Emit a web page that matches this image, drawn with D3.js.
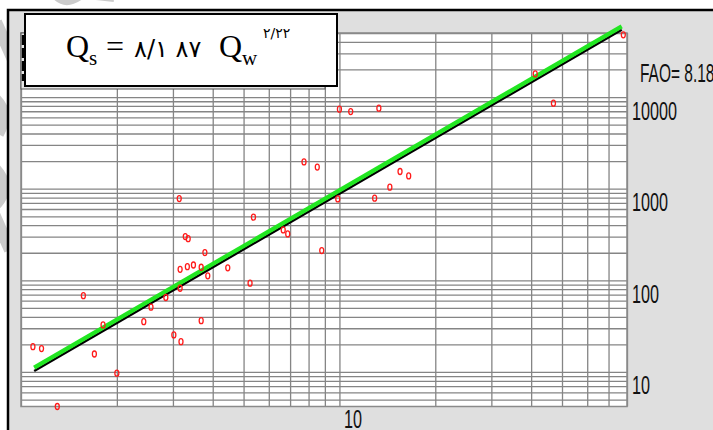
<!DOCTYPE html>
<html>
<head>
<meta charset="utf-8">
<script src="https://cdn.jsdelivr.net/npm/d3@7"></script>
<style>
  html, body { margin: 0; padding: 0; background: #fff; overflow: hidden; }
  svg { display: block; }
</style>
</head>
<body>
<div id="chart"></div>
<script>
// water discharge (Qw) and sediment discharge (Qs)
var qw = [10.0, 10.85, 7.74, 8.52, 3.14, 9.88, 5.37, 3.28, 3.35, 6.66, 6.88, 8.80, 3.78, 4.46,
          3.16, 3.33, 3.48, 3.68, 3.86, 5.24, 1.57, 3.16, 2.85, 2.56, 2.43, 3.68, 1.81, 3.02,
          3.18, 1.09, 1.16, 1.70, 2.00, 1.30, 13.3, 47.0, 15.5, 16.5, 14.4, 12.9, 77.9, 41.2];
var qs = [7380, 6950, 1960, 1720, 780, 774, 489, 300, 285, 355, 321, 211, 201, 137,
          132, 141, 147, 139, 112, 93, 68, 82, 65, 51, 35.4, 36.3, 32.6, 25.4,
          21.4, 18.9, 18.0, 15.7, 9.7, 4.2, 7570, 8580, 1540, 1380, 1040, 788, 47750, 17900];

// fitted rating curves  Qs = a * Qw^b
var fitRange = [1.1, 77.0];
var fitBlack = {a: 8.45, b: 2.018};
var fitGreen = {a: 9.2, b: 2.018};

var xDomain = [1, 80];
var yDomain = [4.2, 50000];
var yLabels = [10, 100, 1000, 10000];
var xLabels = [10];
var faoText = "FAO= 8.187";

(function () {
    var width = 713, height = 430;
    var pLeft = 21, pRight = 627, pTop = 33, pBottom = 406.5;

    var svg = d3.select("#chart").append("svg")
        .attr("width", width)
        .attr("height", height);

    // faint watermark fragments outside the frame
    var wm = svg.append("g").attr("fill", "none").attr("stroke", "#cbcbcb").attr("stroke-width", 12);
    wm.append("path").attr("d", "M-4,22 L14,62");
    wm.append("path").attr("d", "M-6,98 Q10,112 -2,134");
    wm.append("path").attr("d", "M-6,168 Q12,186 -4,204");
    wm.append("path").attr("d", "M-6,214 L10,250");
    wm.append("path").attr("d", "M56,-4 Q66,6 80,-4").attr("stroke-width", 8);
    wm.append("path").attr("d", "M96,-3 L114,-1").attr("stroke-width", 6);

    // window frame
    svg.append("rect")
        .attr("x", 8).attr("y", 10)
        .attr("width", 720).attr("height", 440)
        .attr("fill", "#dfdfdf")
        .attr("stroke", "#000")
        .attr("stroke-width", 2.5);

    var x = d3.scaleLog().domain(xDomain).range([pLeft, pRight]);
    var y = d3.scaleLog().domain(yDomain).range([pBottom, pTop]);

    svg.append("rect")
        .attr("x", pLeft).attr("y", pTop)
        .attr("width", pRight - pLeft).attr("height", pBottom - pTop)
        .attr("fill", "#fff");

    // grid
    var gx = svg.append("g")
        .attr("transform", "translate(0," + pBottom + ")")
        .call(d3.axisBottom(x).tickValues(x.ticks()).tickSize(-(pBottom - pTop)).tickFormat(""));
    var gy = svg.append("g")
        .attr("transform", "translate(" + pLeft + ",0)")
        .call(d3.axisLeft(y).tickValues(y.ticks()).tickSize(-(pRight - pLeft)).tickFormat(""));
    [gx, gy].forEach(function (g) {
        g.select(".domain").remove();
        g.selectAll("line").attr("stroke", "#858585").attr("stroke-width", 1.3);
    });

    svg.append("rect")
        .attr("x", pLeft).attr("y", pTop)
        .attr("width", pRight - pLeft).attr("height", pBottom - pTop)
        .attr("fill", "none")
        .attr("stroke", "#8a8a8a")
        .attr("stroke-width", 1.5);

    // axis labels
    var labelFont = "'Liberation Sans Narrow', 'Liberation Sans', Arial, sans-serif";
    var ay = svg.append("g")
        .attr("transform", "translate(" + pRight + ",0)")
        .call(d3.axisRight(y).tickValues(yLabels).tickSize(0).tickFormat(d3.format("d")));
    ay.select(".domain").remove();
    ay.selectAll("text")
        .attr("x", 5).attr("y", 22).attr("dy", null)
        .attr("text-anchor", "start")
        .attr("fill", "#111")
        .style("font-family", labelFont).style("font-size", "25px")
        .attr("textLength", function (d) { return String(d).length * 9; })
        .attr("lengthAdjust", "spacingAndGlyphs");

    var ax = svg.append("g")
        .attr("transform", "translate(0," + pBottom + ")")
        .call(d3.axisBottom(x).tickValues(xLabels).tickSize(0).tickFormat(d3.format("d")));
    ax.select(".domain").remove();
    ax.selectAll("text")
        .attr("x", 4).attr("y", 21).attr("dy", null)
        .attr("text-anchor", "start")
        .attr("fill", "#111")
        .style("font-family", labelFont).style("font-size", "25px")
        .attr("textLength", function (d) { return String(d).length * 9; })
        .attr("lengthAdjust", "spacingAndGlyphs");

    svg.append("text")
        .attr("x", 640).attr("y", 81.5)
        .attr("fill", "#111")
        .style("font-family", labelFont).style("font-size", "25px")
        .attr("textLength", 83)
        .attr("lengthAdjust", "spacingAndGlyphs")
        .text(faoText);

    // fitted lines
    function fitLine(p) {
        return d3.line()
            .x(function (d) { return x(d); })
            .y(function (d) { return y(p.a * Math.pow(d, p.b)); })(fitRange);
    }
    svg.append("path").attr("d", fitLine(fitBlack))
        .attr("fill", "none").attr("stroke", "#000").attr("stroke-width", 2.4);
    svg.append("path").attr("d", fitLine(fitGreen))
        .attr("fill", "none").attr("stroke", "#22e622").attr("stroke-width", 4.2);

    // observations
    svg.append("g").selectAll("ellipse")
        .data(qw.map(function (d, i) { return [d, qs[i]]; }))
        .enter().append("ellipse")
        .attr("cx", function (d) { return x(d[0]); })
        .attr("cy", function (d) { return y(d[1]); })
        .attr("rx", 2).attr("ry", 3)
        .attr("fill", "none")
        .attr("stroke", "#ff1a1a")
        .attr("stroke-width", 1.3);

    // legend remnants behind the equation box
    svg.append("rect")
        .attr("x", 21).attr("y", 33).attr("width", 304).attr("height", 56)
        .attr("fill", "#e6e6e6").attr("stroke", "#555").attr("stroke-width", 1);
    svg.append("line")
        .attr("x1", 23).attr("x2", 23).attr("y1", 35).attr("y2", 81)
        .attr("stroke", "#000").attr("stroke-width", 2.5)
        .attr("stroke-dasharray", "10,3");

    // equation box
    svg.append("rect")
        .attr("x", 25).attr("y", 14).attr("width", 312).attr("height", 72)
        .attr("fill", "#fff").attr("stroke", "#000").attr("stroke-width", 2);

    var eq = svg.append("g")
        .style("font-family", "'Liberation Serif', 'Times New Roman', serif")
        .attr("fill", "#000");
    eq.append("text").attr("x", 66).attr("y", 57).style("font-size", "32px").text("Q");
    eq.append("text").attr("x", 89).attr("y", 65).style("font-size", "21px").text("s");
    eq.append("text").attr("x", 106).attr("y", 57).style("font-size", "32px").text("=");
    eq.append("text").attr("x", 134).attr("y", 57)
        .style("font-family", "'DejaVu Sans', sans-serif").style("font-size", "24px")
        .text("۸/۱ ۸۷");
    eq.append("text").attr("x", 219).attr("y", 57).style("font-size", "32px").text("Q");
    eq.append("text").attr("x", 242).attr("y", 65).style("font-size", "21px").text("w");
    eq.append("text").attr("x", 263).attr("y", 38)
        .style("font-family", "'DejaVu Sans', sans-serif").style("font-size", "14px")
        .text("۲/۲۲");
})();
</script>
</body>
</html>
